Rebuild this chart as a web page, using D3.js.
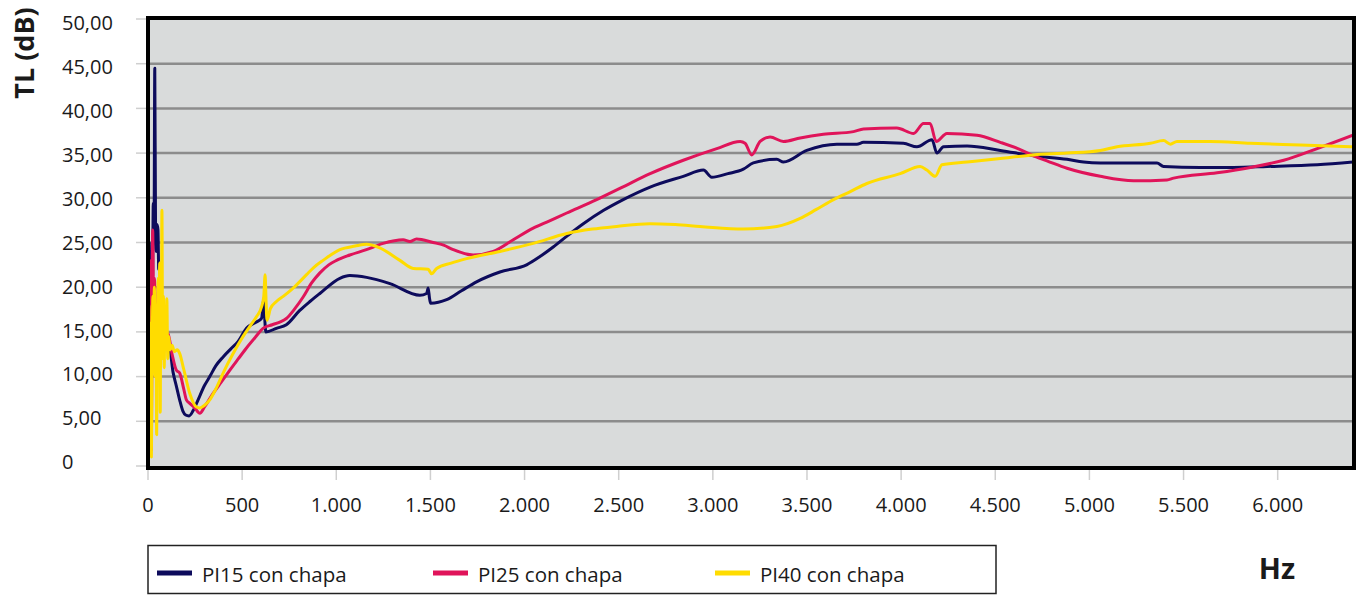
<!DOCTYPE html>
<html><head><meta charset="utf-8">
<script src="https://cdn.jsdelivr.net/npm/d3@7"></script>
<style>
html,body{margin:0;padding:0;background:#fff;}
svg text{font-family:"Open Sans","Noto Sans",sans-serif;fill:#1a1a1a;}
</style></head><body>
<svg id="chart" width="1358" height="595"></svg>
<script>
// ---- data: [frequency Hz, TL dB] ----
const seriesNames = ["PI15 con chapa", "PI25 con chapa", "PI40 con chapa"];
const pi15 = [[0,1],[8,14],[12,24],[16,18],[20,25],[24,21],[28,29.4],[32,26],[36,44.5],[40,27],[44,24],[48,27],[53,26.4],[57,22],[62,22.7],[66,17],[70,14.5],[80,14],[90,13.5],[100,13],[115,13],[133,10.5],[150,9],[168,7.4],[186,6.1],[200,5.7],[218,5.6],[240,6.2],[266,7.4],[300,9],[328,10.0],[360,11.2],[399,12.2],[440,13.1],[478,13.9],[523,15.4],[576,16.1],[603,16.5],[615,18.6],[620,16.5],[626,15.0],[682,15.4],[735,15.8],[806,17.4],[860,18.4],[913,19.3],[1019,21.0],[1072,21.3],[1161,21.1],[1285,20.4],[1444,19.1],[1480,19.3],[1488,19.9],[1495,18.8],[1501,18.2],[1586,18.6],[1665,19.6],[1745,20.6],[1869,21.7],[2011,22.5],[2080,23.4],[2152,24.5],[2230,25.8],[2312,27.1],[2420,28.6],[2524,29.8],[2667,31.2],[2843,32.4],[2950,33.1],[2994,32.3],[3080,32.7],[3162,33.2],[3215,33.9],[3340,34.3],[3375,34.0],[3499,35.3],[3659,36.0],[3765,36.0],[3800,36.2],[4012,36.1],[4084,35.7],[4164,36.5],[4190,35.0],[4225,35.7],[4350,35.8],[4527,35.3],[4704,34.7],[4881,34.3],[4969,34.0],[5058,33.9],[5359,33.9],[5394,33.5],[5589,33.4],[5766,33.4],[5944,33.5],[6210,33.7],[6400,34.0]];
const pi25 = [[0,1.5],[5,17],[9,23],[13,19],[16,8],[18,1.8],[21,16],[25,26.4],[29,20],[34,21],[40,18],[48,17],[58,16],[70,15.5],[85,15],[106,14.8],[128,12.5],[151,10.7],[168,10.4],[190,8.6],[204,7.4],[222,7.0],[248,6.5],[275,5.9],[300,6.6],[345,8.1],[390,9.4],[434,10.7],[480,12],[523,13.2],[570,14.4],[611,15.4],[660,15.8],[700,16.1],[735,16.5],[780,17.6],[824,18.9],[870,20.5],[913,21.6],[960,22.5],[1001,23.0],[1072,23.6],[1160,24.2],[1249,24.9],[1355,25.3],[1391,25.1],[1426,25.4],[1515,25.0],[1570,24.7],[1621,24.2],[1727,23.6],[1834,24.0],[1940,25.3],[2046,26.6],[2130,27.4],[2224,28.3],[2383,29.8],[2520,31.2],[2667,32.7],[2843,34.2],[3021,35.5],[3145,36.3],[3171,36.1],[3207,34.8],[3251,36.3],[3304,36.8],[3375,36.3],[3464,36.7],[3587,37.1],[3747,37.4],[3800,37.7],[3977,37.8],[4066,37.2],[4119,38.3],[4154,38.3],[4186,36.3],[4243,37.2],[4403,37.0],[4527,36.2],[4620,35.5],[4704,34.7],[4790,34.0],[4881,33.3],[5058,32.4],[5235,31.9],[5412,32.0],[5447,32.2],[5678,32.8],[5855,33.4],[6032,34.2],[6210,35.5],[6400,37.0]];
const pi40 = [[0,14],[5,18],[10,8],[14,16],[18,1.0],[22,12],[26,19],[30,15],[34,20],[38,10],[42,18],[46,3.5],[50,16],[55,21],[58,12],[62,22.7],[65,6],[68,19],[71,15],[74,28.6],[78,12],[82,19],[86,11],[90,17],[95,13],[100,18.7],[105,12],[110,14.5],[118,13],[128,13.5],[140,12.8],[155,13],[168,12.6],[190,10.8],[222,8.1],[257,6.6],[275,6.5],[300,6.8],[328,7.4],[360,8.6],[399,10.4],[450,12.5],[505,14.5],[540,15.6],[576,16.7],[603,17.8],[615,19],[622,21.4],[627,18.5],[632,16.3],[650,17.6],[682,18.4],[720,19.0],[771,19.9],[842,21.4],[880,22.2],[930,23.0],[1019,24.2],[1100,24.6],[1161,24.8],[1231,24.4],[1338,23.0],[1409,22.1],[1488,22.0],[1506,21.5],[1533,22.1],[1610,22.7],[1692,23.2],[1869,24.0],[2046,24.9],[2224,26.0],[2360,26.5],[2489,26.8],[2666,27.1],[2800,27.0],[2932,26.8],[3162,26.5],[3340,26.8],[3464,27.7],[3550,28.7],[3641,29.8],[3730,30.7],[3818,31.6],[3995,32.7],[4101,33.5],[4137,33.1],[4181,32.4],[4217,33.7],[4350,34.0],[4527,34.4],[4704,34.8],[4881,35.0],[5058,35.3],[5147,35.7],[5324,36.1],[5394,36.4],[5430,36.0],[5465,36.3],[5642,36.3],[5855,36.1],[6121,35.9],[6400,35.7]];
const xTicks = [0,500,1000,1500,2000,2500,3000,3500,4000,4500,5000,5500,6000];
const yTicks = [0,5,10,15,20,25,30,35,40,45,50];
const xLabels = ["0","500","1.000","1.500","2.000","2.500","3.000","3.500","4.000","4.500","5.000","5.500","6.000"];
const yLabels = ["0","5,00","10,00","15,00","20,00","25,00","30,00","35,00","40,00","45,00","50,00"];
const colors = ["#0d0b5c", "#e0145a", "#ffdc00"];

// ---- layout ----
const svg = d3.select("#chart");
const L = 148, R = 1353, T = 19, B = 466;
const x = d3.scaleLinear().domain([0, 6400]).range([L, R]);
const y = d3.scaleLinear().domain([0, 50]).range([B, T]);
const yLab = d3.scaleLinear().domain([0, 50]).range([462, 23]);

svg.append("rect").attr("x", L).attr("y", T).attr("width", R - L).attr("height", B - T + 2)
  .attr("fill", "#d9dbdb");

svg.append("g").selectAll("line").data(yTicks.filter(v => v > 0 && v < 50)).join("line")
  .attr("x1", L).attr("x2", R).attr("y1", d => y(d)).attr("y2", d => y(d))
  .attr("stroke", "#8c8c8c").attr("stroke-width", 2.5);

svg.append("g").selectAll("line").data(yTicks).join("line")
  .attr("x1", 136).attr("x2", L - 2).attr("y1", d => y(d)).attr("y2", d => y(d))
  .attr("stroke", "#cfcfcf").attr("stroke-width", 1.5);
svg.append("g").selectAll("line").data(xTicks).join("line")
  .attr("x1", d => x(d)).attr("x2", d => x(d)).attr("y1", B + 4).attr("y2", B + 14)
  .attr("stroke", "#cfcfcf").attr("stroke-width", 1.5);

svg.append("clipPath").attr("id", "clip").append("rect")
  .attr("x", L).attr("y", T).attr("width", R - L).attr("height", B - T);

const line = d3.line().x(d => x(d[0])).y(d => y(d[1])).curve(d3.curveMonotoneX);
const gLines = svg.append("g").attr("clip-path", "url(#clip)");
[pi15, pi25, pi40].forEach((s, i) => {
  gLines.append("path").datum(s).attr("d", line)
    .attr("fill", "none").attr("stroke", colors[i]).attr("stroke-width", 3)
    .attr("stroke-linejoin", "round").attr("stroke-linecap", "round");
});

svg.append("rect").attr("x", L).attr("y", T - 1).attr("width", R - L + 1).attr("height", B - T + 3)
  .attr("fill", "none").attr("stroke", "#000").attr("stroke-width", 4);

svg.append("g").selectAll("text").data(yTicks).join("text")
  .attr("x", 62).attr("y", d => yLab(d)).attr("dy", "0.36em")
  .attr("font-size", 20).text((d, i) => yLabels[i]);
svg.append("g").selectAll("text").data(xTicks).join("text")
  .attr("x", d => x(d)).attr("y", 512).attr("text-anchor", "middle")
  .attr("font-size", 20).text((d, i) => xLabels[i]);

svg.append("text").attr("transform", "translate(34,53) rotate(-90)")
  .attr("text-anchor", "middle").attr("font-size", 27).attr("font-weight", "bold")
  .text("TL (dB)");
svg.append("text").attr("x", 1277).attr("y", 579).attr("text-anchor", "middle")
  .attr("font-size", 29).attr("font-weight", "bold").text("Hz");

svg.append("rect").attr("x", 148).attr("y", 545.5).attr("width", 848).attr("height", 48)
  .attr("fill", "#fff").attr("stroke", "#222").attr("stroke-width", 1.5);
const legX = [157, 433, 715];
const lg = svg.append("g").selectAll("g").data(seriesNames).join("g");
lg.append("line").attr("x1", (d, i) => legX[i]).attr("x2", (d, i) => legX[i] + 35)
  .attr("y1", 573).attr("y2", 573).attr("stroke", (d, i) => colors[i]).attr("stroke-width", 5);
lg.append("text").attr("x", (d, i) => legX[i] + 45).attr("y", 582)
  .attr("font-size", 20.5).text(d => d);
</script>
</body></html>
